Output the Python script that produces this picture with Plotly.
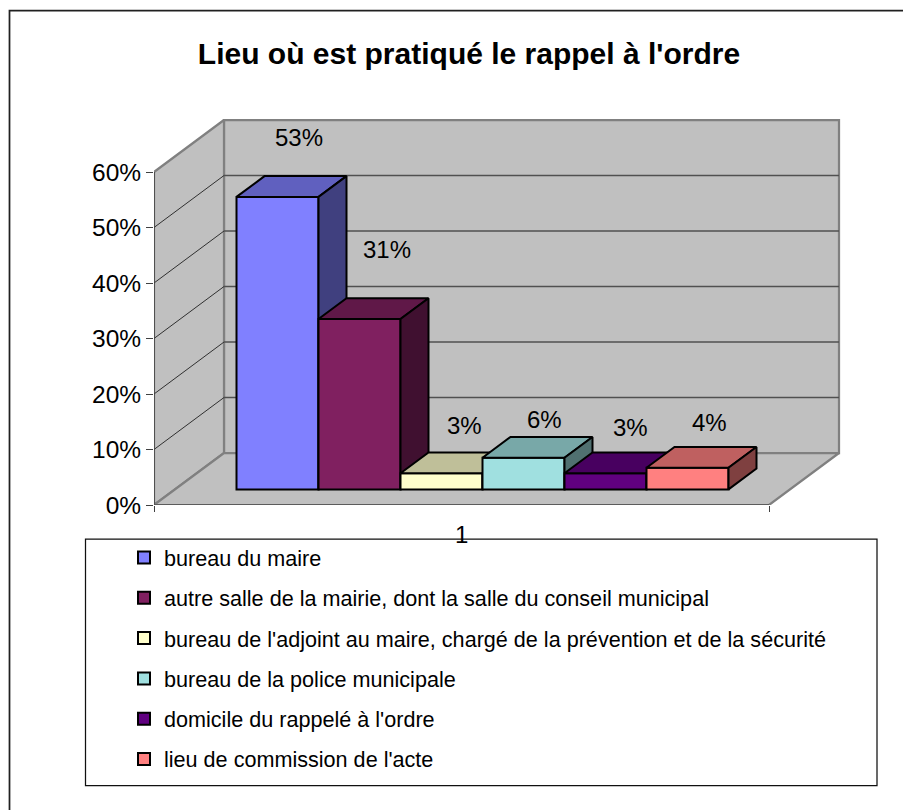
import plotly.graph_objects as go

# ---- data ----
categories = [
    "bureau du maire",
    "autre salle de la mairie, dont la salle du conseil municipal",
    "bureau de l'adjoint au maire, chargé de la prévention et de la sécurité",
    "bureau de la police municipale",
    "domicile du rappelé à l'ordre",
    "lieu de commission de l'acte",
]
values = [52.7, 30.7, 2.9, 5.7, 2.9, 3.9]
value_labels = ["53%", "31%", "3%", "6%", "3%", "4%"]
colors = ["#8080FF", "#802060", "#FFFFCC", "#A0E0E0", "#600080", "#FF8080"]
y_ticks = [0, 10, 20, 30, 40, 50, 60]
group_label = "1"
title_text = "Lieu où est pratiqué le rappel à l'ordre"

# ---- label offsets (pixels, relative to bar top-front centre) ----
label_dx = [21, 27, 23, 21, 25, 22]
label_dy = [59, 70, 48, 38, 46, 45]

# ---- geometry ----
FONT = "Liberation Sans"
W, H = 903, 810
PX_L, PX_R, PX_T, PX_B = 154, 870, 100, 505
CAT_PX = 82.0
VAL_PX = 5.55
SKEW_X = 70 / CAT_PX        # full depth in category units
SKEW_Y = 52 / VAL_PX        # full depth in value units
N_CAT = 7.5
X_MAX = (PX_R - PX_L) / CAT_PX
Y_MAX = (PX_B - PX_T) / VAL_PX
Y_TOP = 60
WALL = "#C0C0C0"


def proj(x, d, v):
    return x + d * SKEW_X, v + d * SKEW_Y


def shade(hexcol, f):
    r, g, b = (int(hexcol[i:i + 2], 16) for i in (1, 3, 5))
    return "rgb(%d,%d,%d)" % (r * f, g * f, b * f)


def poly(points, fill, line_color, line_width, z=0):
    xs, ys = zip(*[proj(*p) for p in points + points[:1]])
    return go.Scatter(x=xs, y=ys, mode="lines", fill="toself", fillcolor=fill,
                      line=dict(color=line_color, width=line_width),
                      showlegend=False, hoverinfo="skip", cliponaxis=False, zorder=z)


def seg(points, color, width, z=0):
    xs, ys = zip(*[proj(*p) for p in points])
    return go.Scatter(x=xs, y=ys, mode="lines", line=dict(color=color, width=width),
                      showlegend=False, hoverinfo="skip", cliponaxis=False, zorder=z)


fig = go.Figure()

# walls and floor
fig.add_trace(poly([(0, 1, 0), (N_CAT, 1, 0), (N_CAT, 1, Y_TOP), (0, 1, Y_TOP)], WALL, "#808080", 2.25, -3))
fig.add_trace(poly([(0, 0, 0), (0, 1, 0), (0, 1, Y_TOP), (0, 0, Y_TOP)], WALL, "#808080", 2.25, -3))
fig.add_trace(poly([(0, 0, 0), (N_CAT, 0, 0), (N_CAT, 1, 0), (0, 1, 0)], WALL, "#808080", 2.25, -3))
for t in y_ticks[1:-1]:
    fig.add_trace(seg([(0, 0, t), (0, 1, t)], "#303030", 1, -2))
    fig.add_trace(seg([(0, 1, t), (N_CAT, 1, t)], "#505050", 1.5, -2))
fig.add_trace(seg([(0, 0, Y_TOP), (0, 0, 0)], "#404040", 1.5, -2))
fig.add_trace(seg([(0, 0, 0), (N_CAT, 0, 0)], "#505050", 1.5, -2))

# bars
GAP = 0.75
D0, D1 = 0.3, 0.7
for i, (name, v, c) in enumerate(zip(categories, values, colors)):
    x0 = GAP + i
    x1 = x0 + 1
    z = i + 1
    fx, base = proj(x0 + 0.5, D0, 0)
    fig.add_trace(go.Bar(x=[fx], y=[v], base=[base], width=[1], name=name,
                         marker=dict(color=c, line=dict(color="#000000", width=2)),
                         legendgroup=name, hoverinfo="skip", zorder=z))
    fig.add_trace(poly([(x0, D0, v), (x1, D0, v), (x1, D1, v), (x0, D1, v)], shade(c, 0.75), "#000000", 2, z))
    fig.add_trace(poly([(x1, D0, 0), (x1, D1, 0), (x1, D1, v), (x1, D0, v)], shade(c, 0.5), "#000000", 2, z))

annotations = []
for i, (v, lab) in enumerate(zip(values, value_labels)):
    fx, fy = proj(GAP + i + 0.5, D0, v)
    annotations.append(dict(x=fx, y=fy, xref="x", yref="y", text=lab, showarrow=False,
                            xshift=label_dx[i], yshift=label_dy[i],
                            font=dict(family=FONT, size=24, color="#000000")))
annotations.append(dict(x=N_CAT / 2, y=0, xref="x", yref="y", text=group_label, showarrow=False,
                        yshift=-29, font=dict(family=FONT, size=24, color="#000000")))


def px_x(p):
    return (p - PX_L) / (PX_R - PX_L)


def px_y(p):
    return (PX_B - p) / (PX_B - PX_T)


shapes = [
    dict(type="rect", xref="paper", yref="paper", x0=px_x(9.5), x1=px_x(925), y0=px_y(10.5), y1=px_y(835),
         line=dict(color="#202020", width=1.75), layer="below"),
    dict(type="rect", xref="paper", yref="paper", x0=px_x(85.5), x1=px_x(877), y0=px_y(539), y1=px_y(785.5),
         line=dict(color="#101010", width=1.25), layer="below"),
]

fig.update_layout(
    width=W, height=H,
    margin=dict(l=PX_L, r=W - PX_R, t=PX_T, b=H - PX_B, pad=0),
    paper_bgcolor="white", plot_bgcolor="rgba(0,0,0,0)",
    font=dict(family=FONT, color="#000000"),
    title=dict(text="<b>%s</b>" % title_text, x=469 / W, xanchor="center", y=1 - 53 / H, yanchor="middle",
               font=dict(family=FONT, size=30, color="#000000")),
    xaxis=dict(range=[0, X_MAX], tickvals=[0, N_CAT], ticktext=["", ""], ticks="outside", ticklen=6,
               tickcolor="#404040", showgrid=False, zeroline=False, showline=False),
    yaxis=dict(range=[0, Y_MAX], tickvals=y_ticks, ticktext=["%d%%" % t for t in y_ticks], ticks="outside",
               ticklen=7, tickcolor="#404040", showgrid=False, zeroline=False, showline=False,
               tickfont=dict(family=FONT, size=24.5, color="#000000")),
    barmode="overlay",
    legend=dict(x=px_x(124), y=px_y(537), xanchor="left", yanchor="top", bgcolor="rgba(0,0,0,0)", borderwidth=0,
                tracegroupgap=9.2, font=dict(family=FONT, size=21.6, color="#000000"), traceorder="grouped"),
    annotations=annotations,
    shapes=shapes,
)

fig.write_html("out.html", post_script="document.body.style.margin='0';",
               config=dict(displayModeBar=False))
